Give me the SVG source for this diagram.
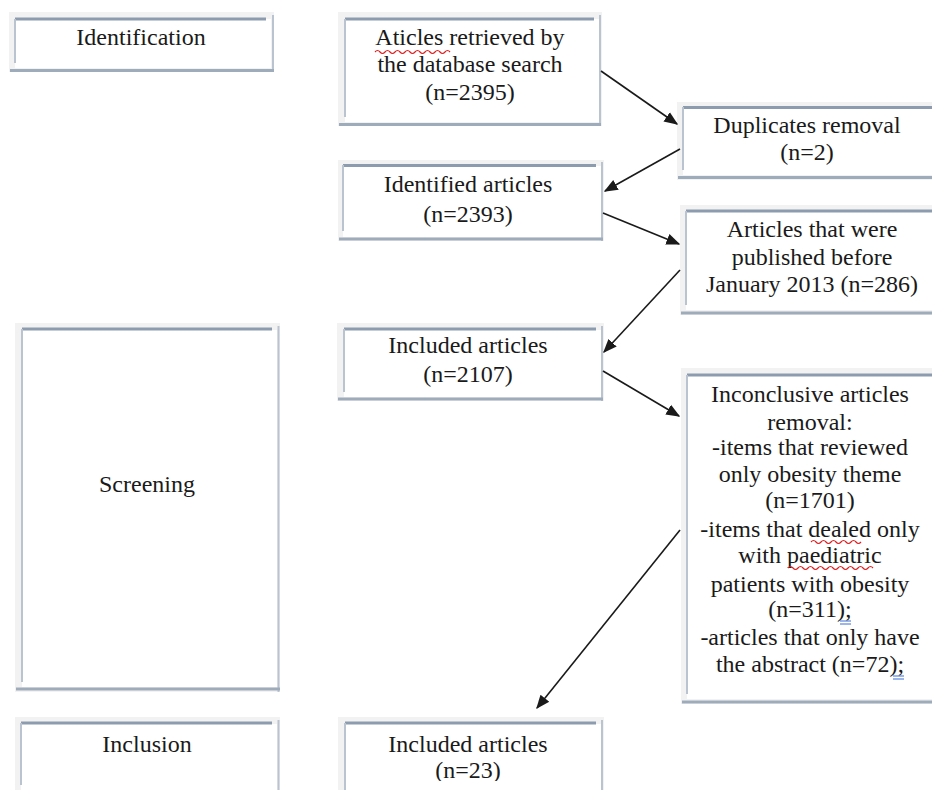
<svg xmlns="http://www.w3.org/2000/svg" width="932" height="790" viewBox="0 0 932 790">
<style>
.outer{fill:#f2f2f2;stroke:none}
.inner{fill:#ffffff;stroke:none}
.top{stroke:#8c9bae;stroke-width:3;fill:none}
.side{stroke:#b9c4d0;stroke-width:2;fill:none}
.bot{stroke:#9eabbb;stroke-width:3;fill:none}
.t{font-size:24px;fill:#1a1a1a;text-anchor:middle}
.conn line{stroke:#1a1a1a;stroke-width:1.6}
.sq{stroke:#e02020;stroke-width:1.2;fill:none}
.bl{stroke:#3a6fd8;stroke-width:1.2;fill:none}
</style>
<defs>
<marker id="ah2" viewBox="0 0 10 10" refX="9" refY="5" markerWidth="14" markerHeight="14" markerUnits="userSpaceOnUse" orient="auto">
<path d="M0,1 L10,5 L0,9 z" fill="#1a1a1a"/>
</marker>
<clipPath id="cb"><rect x="0" y="0" width="932" height="781"/></clipPath>
</defs>
<rect x="0" y="0" width="932" height="790" fill="#ffffff"/>

<g font-family="Liberation Serif, Tinos, DejaVu Serif, serif">
<g id="identification">
<rect class="outer" x="9" y="12" width="265" height="60"/>
<rect class="inner" x="15" y="19" width="256" height="49"/>
<line class="top" x1="15" y1="19" x2="266" y2="19"/>
<line class="side" x1="15" y1="19" x2="15" y2="63"/>
<line class="side" x1="273" y1="15" x2="273" y2="72"/>
<line class="bot" x1="10" y1="70.5" x2="274" y2="70.5"/>
<text class="t" x="141" y="45">Identification</text>
</g>

<g id="retrieved">
<rect class="outer" x="338" y="12" width="264" height="114"/>
<rect class="inner" x="345" y="19" width="254" height="103"/>
<line class="top" x1="345" y1="19" x2="594" y2="19"/>
<line class="side" x1="345" y1="19" x2="345" y2="117"/>
<line class="side" x1="600" y1="15" x2="600" y2="126"/>
<line class="bot" x1="339" y1="124.5" x2="601" y2="124.5"/>
<text class="t" x="470" y="45">Aticles retrieved by</text>
<text class="t" x="470" y="72">the database search</text>
<text class="t" x="470" y="100">(n=2395)</text>
<path class="sq" d="M375,52 q2.5,-3 5,0 t5,0 t5,0 t5,0 t5,0 t5,0 t5,0 t5,0 t5,0 t5,0 t5,0 t5,0 t5,0 t5,0 t5,0"/>
</g>

<g id="duplicates">
<rect class="outer" x="677" y="102" width="255" height="78"/>
<rect class="inner" x="683" y="108" width="249" height="67"/>
<line class="top" x1="683" y1="107.5" x2="932" y2="107.5"/>
<line class="side" x1="683" y1="107" x2="683" y2="170"/>
<line class="bot" x1="678" y1="177.5" x2="932" y2="177.5"/>
<text class="t" x="807" y="133">Duplicates removal</text>
<text class="t" x="807" y="160">(n=2)</text>
</g>

<g id="identified">
<rect class="outer" x="338" y="160" width="266" height="81"/>
<rect class="inner" x="343" y="166" width="258" height="71"/>
<line class="top" x1="343" y1="165.5" x2="596" y2="165.5"/>
<line class="side" x1="343" y1="165" x2="343" y2="231"/>
<line class="side" x1="602" y1="162" x2="602" y2="241"/>
<line class="bot" x1="339" y1="239" x2="603" y2="239"/>
<text class="t" x="468" y="192">Identified articles</text>
<text class="t" x="468" y="222">(n=2393)</text>
</g>

<g id="published">
<rect class="outer" x="680" y="205" width="252" height="110"/>
<rect class="inner" x="686" y="212" width="246" height="98"/>
<line class="top" x1="686" y1="211" x2="932" y2="211"/>
<line class="side" x1="686" y1="211" x2="686" y2="305"/>
<line class="bot" x1="681" y1="313" x2="932" y2="313"/>
<text class="t" x="812" y="237">Articles that were</text>
<text class="t" x="812" y="265">published before</text>
<text class="t" x="812" y="292">January 2013 (n=286)</text>
</g>

<g id="screening">
<rect class="outer" x="15" y="323" width="265" height="369"/>
<rect class="inner" x="22" y="330" width="255" height="357"/>
<line class="top" x1="22" y1="329" x2="272" y2="329"/>
<line class="side" x1="22" y1="329" x2="22" y2="682"/>
<line class="side" x1="278.5" y1="326" x2="278.5" y2="692"/>
<line class="bot" x1="16" y1="689" x2="280" y2="689"/>
<text class="t" x="147" y="492">Screening</text>
</g>

<g id="included2107">
<rect class="outer" x="337" y="323" width="267" height="78"/>
<rect class="inner" x="344" y="330" width="257" height="67"/>
<line class="top" x1="344" y1="329" x2="596" y2="329"/>
<line class="side" x1="344" y1="329" x2="344" y2="392"/>
<line class="side" x1="602" y1="326" x2="602" y2="401"/>
<line class="bot" x1="338" y1="399" x2="603" y2="399"/>
<text class="t" x="468" y="353">Included articles</text>
<text class="t" x="468" y="382">(n=2107)</text>
</g>

<g id="inconclusive">
<rect class="outer" x="681" y="368" width="251" height="336"/>
<rect class="inner" x="687" y="375" width="245" height="324"/>
<line class="top" x1="687" y1="375" x2="932" y2="375"/>
<line class="side" x1="687" y1="375" x2="687" y2="694"/>
<line class="bot" x1="682" y1="702" x2="932" y2="702"/>
<text class="t" x="810" y="402">Inconclusive articles</text>
<text class="t" x="810" y="430">removal:</text>
<text class="t" x="810" y="455">-items that reviewed</text>
<text class="t" x="810" y="482">only obesity theme</text>
<text class="t" x="810" y="508">(n=1701)</text>
<text class="t" x="810" y="537">-items that dealed only</text>
<text class="t" x="810" y="563">with paediatric</text>
<text class="t" x="810" y="592">patients with obesity</text>
<text class="t" x="810" y="617">(n=311);</text>
<text class="t" x="810" y="645">-articles that only have</text>
<text class="t" x="810" y="672">the abstract (n=72);</text>
<path class="sq" d="M811,542 q2.5,-3 5,0 t5,0 t5,0 t5,0 t5,0 t5,0 t5,0 t5,0 t5,0 t5,0"/>
<path class="sq" d="M788,568 q2.5,-3 5,0 t5,0 t5,0 t5,0 t5,0 t5,0 t5,0 t5,0 t5,0 t5,0 t5,0 t5,0 t5,0 t5,0 t5,0 t5,0 t5,0"/>
<path class="bl" d="M840,621 h11 M840,624 h11"/>
<path class="bl" d="M893,676 h11 M893,679 h11"/>
</g>

<g id="inclusion">
<rect class="outer" x="15" y="717" width="265" height="73"/>
<rect class="inner" x="21" y="724" width="256" height="66"/>
<line class="top" x1="21" y1="723" x2="272" y2="723"/>
<line class="side" x1="21" y1="723" x2="21" y2="785"/>
<line class="side" x1="278.5" y1="720" x2="278.5" y2="790"/>
<text class="t" x="147" y="752">Inclusion</text>
</g>

<g id="included23">
<rect class="outer" x="338" y="717" width="266" height="73"/>
<rect class="inner" x="345" y="724" width="256" height="66"/>
<line class="top" x1="345" y1="723" x2="596" y2="723"/>
<line class="side" x1="345" y1="723" x2="345" y2="790"/>
<line class="side" x1="602" y1="720" x2="602" y2="790"/>
<text class="t" x="468" y="752">Included articles</text>
<text class="t" x="468" y="778" clip-path="url(#cb)">(n=23)</text>
</g>
</g>

<g id="connectors" class="conn">
<line x1="601" y1="71" x2="677" y2="124" marker-end="url(#ah2)"/>
<line x1="680" y1="149" x2="605" y2="191" marker-end="url(#ah2)"/>
<line x1="603" y1="213" x2="679" y2="244" marker-end="url(#ah2)"/>
<line x1="680" y1="270" x2="604" y2="352" marker-end="url(#ah2)"/>
<line x1="603" y1="371" x2="679" y2="416" marker-end="url(#ah2)"/>
<line x1="680" y1="530" x2="537" y2="708" marker-end="url(#ah2)"/>
</g>
</svg>
